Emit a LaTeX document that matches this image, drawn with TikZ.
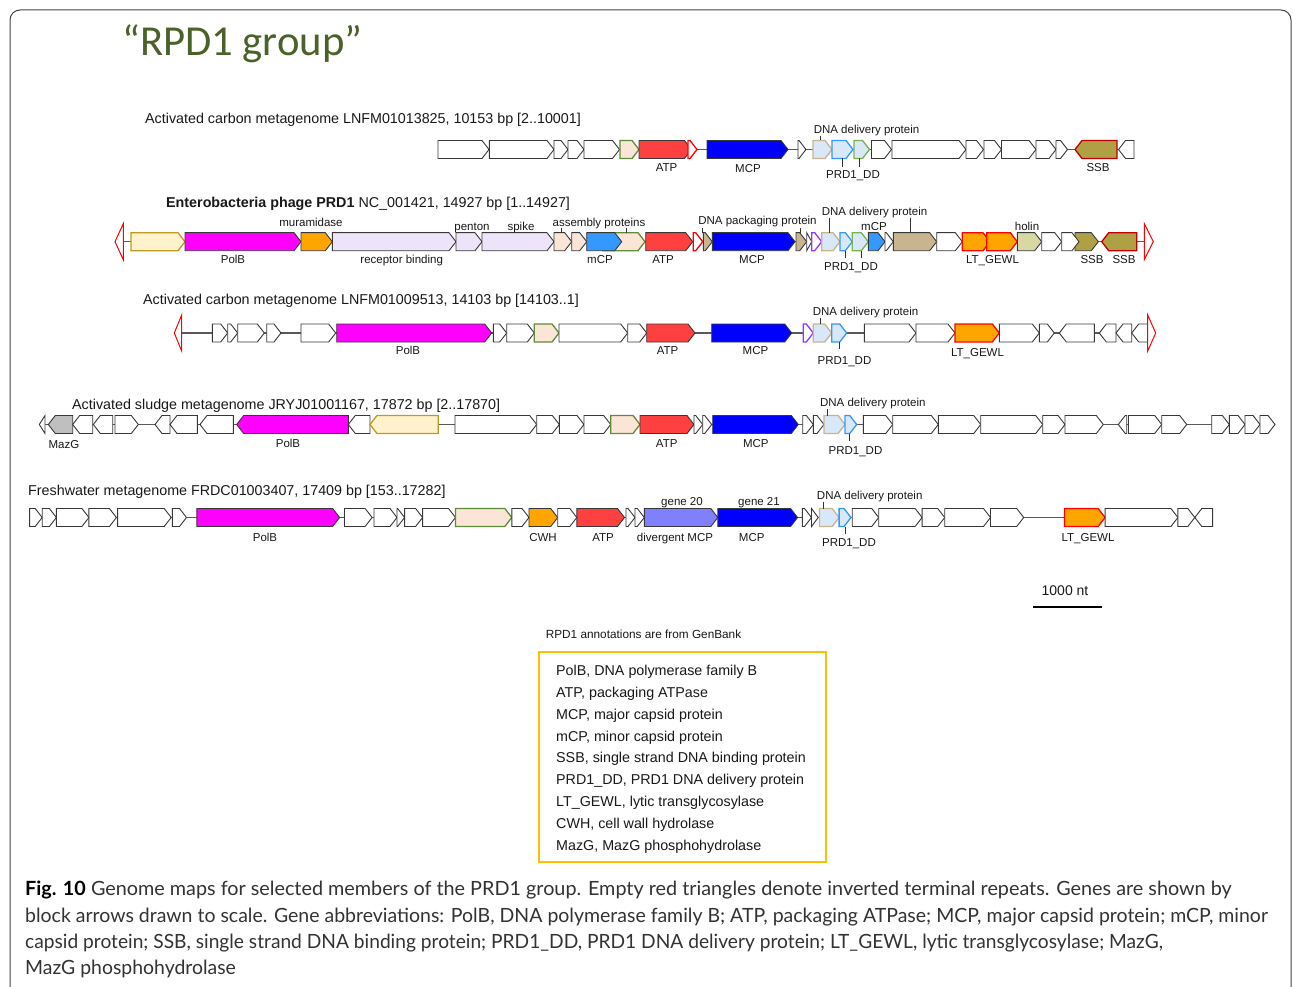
\documentclass[tikz,border=0pt]{standalone}
\usepackage{fontspec}
\setmainfont{Liberation Sans}
\newfontfamily\capfont{Lato}
\newfontfamily\grpfont{Carlito}
\definecolor{cATP}{HTML}{FF4040}
\definecolor{cMCP}{HTML}{0000FF}
\definecolor{cPolB}{HTML}{FF00FF}
\definecolor{cOr}{HTML}{FFA500}
\definecolor{cSSB}{HTML}{B0A045}
\definecolor{cCream}{HTML}{FFF2CC}
\definecolor{cGold}{HTML}{C09A20}
\definecolor{cBeige}{HTML}{FBE5D6}
\definecolor{cGreen}{HTML}{5E8C3A}
\definecolor{cLB}{HTML}{D9E8F8}
\definecolor{cTanB}{HTML}{C8B48E}
\definecolor{cBlueB}{HTML}{3399FF}
\definecolor{cGreenB}{HTML}{77B352}
\definecolor{cmCP}{HTML}{3399FF}
\definecolor{cTan}{HTML}{C8B48E}
\definecolor{cHolin}{HTML}{D8D8A3}
\definecolor{cPurple}{HTML}{9933FF}
\definecolor{cLav}{HTML}{EEE4FA}
\definecolor{cMazG}{HTML}{BFBFBF}
\definecolor{cDiv}{HTML}{8080FF}
\definecolor{cRedB}{HTML}{FF0000}
\definecolor{cDkRed}{HTML}{C00000}
\definecolor{cFrame}{HTML}{444444}
\definecolor{cTitle}{HTML}{4A6128}
\definecolor{cLegend}{HTML}{FFC000}
\definecolor{cCap}{HTML}{333333}
\newcommand\gene[4][]{%
  \pgfmathsetmacro\gL{(#3)-(#2)}%
  \pgfmathsetmacro\gM{(#3)-((\gL>0)*min(7,\gL)+(\gL<0)*max(-7,\gL))}%
  \draw[genebox,#1] (#2,#4-9) -- (\gM,#4-9) -- (#3,#4) -- (\gM,#4+9) -- (#2,#4+9) -- cycle;}
\tikzset{
  genebox/.style={draw=black!78, fill=white, line width=0.9pt, line join=miter},
  gatp/.style={fill=cATP},
  gmcp/.style={fill=cMCP},
  gpolb/.style={fill=cPolB},
  gorng/.style={fill=cOr},
  glt/.style={fill=cOr, draw=cRedB, line width=1.3pt},
  gssbr/.style={fill=cSSB, draw=cDkRed, line width=1.3pt},
  gssbk/.style={fill=cSSB},
  gcream/.style={fill=cCream, draw=cGold, line width=1.3pt},
  gbeige/.style={fill=cBeige, draw=cGreen, line width=1.3pt},
  gbeigek/.style={fill=cBeige},
  gddp/.style={fill=cLB, draw=cTanB, line width=1.3pt},
  gprdd/.style={fill=cLB, draw=cBlueB, line width=1.3pt},
  glbg/.style={fill=cLB, draw=cGreenB, line width=1.3pt},
  gmcpm/.style={fill=cmCP},
  gtanf/.style={fill=cTan},
  gholin/.style={fill=cHolin},
  gpurp/.style={fill=white, draw=cPurple, line width=1.3pt},
  gredh/.style={fill=white, draw=cRedB, line width=1.3pt},
  glav/.style={fill=cLav},
  gmazg/.style={fill=cMazG},
  gdmcp/.style={fill=cDiv},
  itr/.style={draw=cRedB, fill=white, line width=1pt, line join=miter},
  backbone/.style={draw=black!65, line width=1.2pt},
  tickline/.style={draw=black!80, line width=0.8pt},
  lab/.style={font=\fontsize{11.5}{13}\selectfont, text=black!90, inner sep=0, anchor=base},
  ttl/.style={font=\fontsize{14.3}{16}\selectfont, text=black!90, inner sep=0, anchor=base west},
  legtext/.style={font=\fontsize{14.3}{16}\selectfont, text=black!90, inner sep=0, anchor=base west},
  captext/.style={font=\capfont\fontsize{19.6}{23}\selectfont, text=cCap, inner sep=0, anchor=base west}
}
\begin{document}
\begin{tikzpicture}[x=1pt,y=-1pt]
\useasboundingbox (0,0) rectangle (1293,987);
\fill[white] (0,0) rectangle (1293,987);
\draw[cFrame, line width=1pt, rounded corners=10pt] (10,1000) -- (10,10) -- (1291,10) -- (1291,1000);
\node[anchor=base west, inner sep=0, text=cTitle, font=\grpfont\fontsize{42.7}{50}\selectfont] (grp) at (122,56) {“RPD1 group”};

% ---------------- Row 1 ----------------
\def\ry{149.5}
\node[ttl] (t1) at (145,124) {Activated carbon metagenome LNFM01013825, 10153 bp [2..10001]};
\draw[backbone] (438,\ry) -- (1134,\ry);
\gene{438}{489}{\ry}
\gene{489.3}{554}{\ry}
\gene{554}{568}{\ry}
\gene{568}{584}{\ry}
\gene{584}{619.5}{\ry}
\gene[gbeige]{620}{639}{\ry}
\gene[gatp]{639}{691.5}{\ry}
\gene[gredh]{688}{697}{\ry}
\gene[gmcp]{707}{788}{\ry}
\gene{798}{806}{\ry}
\gene[gddp]{813}{832}{\ry}
\gene[gprdd]{832}{853}{\ry}
\gene[glbg]{854}{869.5}{\ry}
\gene{871.5}{891.5}{\ry}
\gene{892}{966}{\ry}
\gene{966}{983.5}{\ry}
\gene{984}{1001.5}{\ry}
\gene{1001.5}{1036}{\ry}
\gene{1036}{1056}{\ry}
\gene{1056}{1067.5}{\ry}
\gene[gssbr]{1117}{1075}{\ry}
\gene{1134}{1118.5}{\ry}
\node[lab] (r1atp) at (666.5,172) {ATP};
\node[lab] (r1mcp) at (748,173) {MCP};
\node[lab] (r1ddp) at (866.5,133.5) {DNA delivery protein};
\node[lab] (r1prd) at (853,178.5) {PRD1\_DD};
\node[lab] (r1ssb) at (1098,172) {SSB};
\draw[tickline] (820.5,136) -- (820.5,140.5);
\draw[tickline] (842.3,158.5) -- (842.3,167);
\draw[tickline] (859,158.5) -- (859,167);

% ---------------- Row 2 ----------------
\def\ry{241.7}
\node[ttl] (t2) at (166,208) {\textbf{Enterobacteria phage PRD1} NC\_001421, 14927 bp [1..14927]};
\draw[backbone] (115,\ry) -- (1153,\ry);
\draw[itr] (115,\ry) -- (123.3,\ry-18) -- (123.3,\ry+18) -- cycle;
\gene[gcream]{131}{185}{\ry}
\gene[gpolb]{185}{301}{\ry}
\gene[gorng]{301}{332.3}{\ry}
\gene[glav]{332.3}{456}{\ry}
\gene[glav]{456}{482}{\ry}
\gene[glav]{482}{554}{\ry}
\gene[gbeigek]{554}{571.7}{\ry}
\gene[gbeigek]{571.7}{586.7}{\ry}
\gene[gbeige]{603}{645}{\ry}
\gene[gmcpm]{586.7}{621.7}{\ry}
\gene[gatp]{645.7}{692.7}{\ry}
\gene[gredh]{693.3}{702.7}{\ry}
\gene[gtanf]{703.3}{712.3}{\ry}
\gene[gmcp]{712.3}{795}{\ry}
\gene[gtanf]{796}{806.7}{\ry}
\gene{806.7}{811.7}{\ry}
\gene[gpurp]{811.7}{821.7}{\ry}
\gene[gddp]{821.7}{840}{\ry}
\gene[gprdd]{840}{852.3}{\ry}
\gene[glbg]{852.3}{868.3}{\ry}
\gene[gmcpm]{868.3}{885}{\ry}
\gene{885}{893.3}{\ry}
\gene[gtanf]{893.3}{936.7}{\ry}
\gene{936.7}{962.3}{\ry}
\gene[glt]{962.3}{990}{\ry}
\gene[glt]{986.7}{1017.3}{\ry}
\gene[gholin]{1017.3}{1041.7}{\ry}
\gene{1041.7}{1061.7}{\ry}
\gene[gssbk]{1075}{1098.3}{\ry}
\gene{1061.7}{1079}{\ry}
\gene[gssbr]{1136.7}{1101.7}{\ry}
\draw[itr] (1153.3,\ry) -- (1144.3,\ry-18) -- (1144.3,\ry+18) -- cycle;
\node[lab] (r2mur) at (311,226) {muramidase};
\node[lab] (r2polb) at (233,263) {PolB};
\node[lab] (r2rec) at (401.7,263) {receptor binding};
\node[lab] (r2pen) at (472,231) {penton};
\node[lab] (r2spk) at (521,231) {spike};
\node[lab] (r2asm) at (599,226) {assembly proteins};
\node[lab] (r2mcpa) at (600,263) {mCP};
\node[lab] (r2atp) at (663,263) {ATP};
\node[lab] (r2mcp) at (752,263) {MCP};
\node[lab] (r2dpk) at (757.5,225) {DNA packaging protein};
\node[lab] (r2ddp) at (874.5,215) {DNA delivery protein};
\node[lab] (r2mcpb) at (874,231) {mCP};
\node[lab] (r2prd) at (851,270) {PRD1\_DD};
\node[lab] (r2lt) at (992.5,263) {LT\_GEWL};
\node[lab] (r2hol) at (1027,231) {holin};
\node[lab] (r2ssa) at (1092,263) {SSB};
\node[lab] (r2ssb) at (1124,263) {SSB};
\draw[tickline] (561.7,228) -- (561.7,232.7);
\draw[tickline] (626.7,228) -- (626.7,232.7);
\draw[tickline] (702.7,228) -- (702.7,232.7);
\draw[tickline] (800,228) -- (800,232.7);
\draw[tickline] (829.3,218) -- (829.3,232.7);
\draw[tickline] (910,218) -- (910,232.7);
\draw[tickline] (845,250.7) -- (845,258);
\draw[tickline] (861.7,250.7) -- (861.7,258);

% ---------------- Row 3 ----------------
\def\ry{333}
\node[ttl] (t3) at (143,304) {Activated carbon metagenome LNFM01009513, 14103 bp [14103..1]};
\draw[backbone] (174,\ry) -- (1156,\ry);
\draw[itr] (174.3,\ry) -- (181.7,\ry-18) -- (181.7,\ry+18) -- cycle;
\gene{212.3}{227.7}{\ry}
\gene{227.7}{237.7}{\ry}
\gene{237.7}{264.3}{\ry}
\gene{266.7}{281}{\ry}
\gene{301}{335.7}{\ry}
\gene[gpolb]{336.7}{491.7}{\ry}
\gene{493.3}{506.7}{\ry}
\gene{506.7}{534.3}{\ry}
\gene[gbeige]{534.3}{559}{\ry}
\gene{559}{627.7}{\ry}
\gene{627.7}{646.7}{\ry}
\gene[gatp]{646.7}{695}{\ry}
\gene[gmcp]{711.7}{791.7}{\ry}
\gene[gpurp]{803.3}{813.3}{\ry}
\gene[gddp]{813.3}{831.7}{\ry}
\gene[gprdd]{831.7}{846.7}{\ry}
\gene{864.3}{916}{\ry}
\gene{916}{955}{\ry}
\gene[glt]{955}{999.3}{\ry}
\gene{999.3}{1039.3}{\ry}
\gene{1039.3}{1054.3}{\ry}
\gene{1094.3}{1059.3}{\ry}
\gene{1116}{1099.3}{\ry}
\gene{1131.7}{1116}{\ry}
\gene{1148.3}{1131.7}{\ry}
\draw[itr] (1155.7,\ry) -- (1147.7,\ry-18) -- (1147.7,\ry+18) -- cycle;
\node[lab] (r3polb) at (408,354) {PolB};
\node[lab] (r3atp) at (667.5,354) {ATP};
\node[lab] (r3mcp) at (755.5,354) {MCP};
\node[lab] (r3ddp) at (865.5,315) {DNA delivery protein};
\node[lab] (r3prd) at (844.5,364) {PRD1\_DD};
\node[lab] (r3lt) at (977.5,356) {LT\_GEWL};
\draw[tickline] (820,317.5) -- (820,324);
\draw[tickline] (839.3,342) -- (839.3,349);

% ---------------- Row 4 ----------------
\def\ry{424.5}
\node[ttl] (t4) at (72,409) {Activated sludge metagenome JRYJ01001167, 17872 bp [2..17870]};
\draw[backbone] (39,\ry) -- (1275,\ry);
\gene{45}{39.3}{\ry}
\gene[gmazg]{72.7}{48.3}{\ry}
\gene{92.7}{72.7}{\ry}
\gene{112.7}{93.3}{\ry}
\gene{115}{138.3}{\ry}
\gene{170}{155}{\ry}
\gene{197.3}{170}{\ry}
\gene{233.3}{200}{\ry}
\gene[gpolb]{348.3}{236.7}{\ry}
\gene{370}{348.3}{\ry}
\gene[gcream]{438.3}{370}{\ry}
\gene{455}{536.7}{\ry}
\gene{536.7}{559.3}{\ry}
\gene{559.3}{584}{\ry}
\gene{584}{610.7}{\ry}
\gene[gbeige]{610.7}{640}{\ry}
\gene[gatp]{640}{694}{\ry}
\gene{694}{702.7}{\ry}
\gene{702.7}{711.7}{\ry}
\gene[gmcp]{712.7}{798.3}{\ry}
\gene{802.7}{813.3}{\ry}
\gene{813.3}{824}{\ry}
\gene[gddp]{824}{845}{\ry}
\gene[gprdd]{845}{856.7}{\ry}
\gene{863.3}{892.7}{\ry}
\gene{892.7}{938.3}{\ry}
\gene{938.3}{980.7}{\ry}
\gene{980.7}{1042.7}{\ry}
\gene{1042.7}{1065}{\ry}
\gene{1065}{1103.3}{\ry}
\gene{1126.7}{1118.3}{\ry}
\gene{1128.5}{1161.7}{\ry}
\gene{1161.7}{1186.7}{\ry}
\gene{1211.7}{1229.3}{\ry}
\gene{1229.3}{1245}{\ry}
\gene{1245}{1260}{\ry}
\gene{1260}{1275}{\ry}
\node[lab] (r4maz) at (64,448) {MazG};
\node[lab] (r4polb) at (288,447) {PolB};
\node[lab] (r4atp) at (666.7,447) {ATP};
\node[lab] (r4mcp) at (755.8,447) {MCP};
\node[lab] (r4ddp) at (872.8,406) {DNA delivery protein};
\node[lab] (r4prd) at (855.5,454) {PRD1\_DD};
\draw[tickline] (827.7,409) -- (827.7,415.5);
\draw[tickline] (849,433.5) -- (849,441);

% ---------------- Row 5 ----------------
\def\ry{517.5}
\node[ttl] (t5) at (28,495) {Freshwater metagenome FRDC01003407, 17409 bp [153..17282]};
\draw[backbone] (29,\ry) -- (1213,\ry);
\gene{29.6}{42.2}{\ry}
\gene{42.2}{56.4}{\ry}
\gene{56.4}{88.9}{\ry}
\gene{88.9}{116.4}{\ry}
\gene{117.6}{171.2}{\ry}
\gene{172.3}{186.5}{\ry}
\gene[gpolb]{196.8}{339.6}{\ry}
\gene{344.5}{372.1}{\ry}
\gene{374}{397}{\ry}
\gene{397}{404.6}{\ry}
\gene{404.6}{422.6}{\ry}
\gene{422.6}{455.5}{\ry}
\gene[gbeige]{455.5}{511.8}{\ry}
\gene{511.8}{529}{\ry}
\gene[gorng]{529}{557.7}{\ry}
\gene{557.7}{576.8}{\ry}
\gene[gatp]{576.8}{624.5}{\ry}
\gene{626}{635}{\ry}
\gene{635}{644.3}{\ry}
\gene[gdmcp]{644.3}{717.8}{\ry}
\gene[gmcp]{717.8}{797.6}{\ry}
\gene{802.4}{811.5}{\ry}
\gene{811.5}{818.2}{\ry}
\gene[gddp]{819.4}{839.1}{\ry}
\gene[gprdd]{839.1}{851}{\ry}
\gene{852.2}{878.7}{\ry}
\gene{878.7}{922.1}{\ry}
\gene{922.1}{944.7}{\ry}
\gene{944.7}{990.5}{\ry}
\gene{990.5}{1023.7}{\ry}
\gene[glt]{1064.4}{1105.1}{\ry}
\gene{1105.1}{1177.9}{\ry}
\gene{1177.9}{1194.8}{\ry}
\gene{1212.6}{1194.8}{\ry}
\node[lab] (r5polb) at (265,541) {PolB};
\node[lab] (r5cwh) at (543,541) {CWH};
\node[lab] (r5atp) at (603,541) {ATP};
\node[lab] (r5g20) at (682,505) {gene 20};
\node[lab] (r5g21) at (759,505) {gene 21};
\node[lab] (r5dmcp) at (675,541) {divergent MCP};
\node[lab] (r5mcp) at (751.7,541) {MCP};
\node[lab] (r5ddp) at (869.7,499) {DNA delivery protein};
\node[lab] (r5prd) at (849,546) {PRD1\_DD};
\node[lab] (r5lt) at (1088,541) {LT\_GEWL};
\draw[tickline] (823.3,501.5) -- (823.3,508.5);
\draw[tickline] (845,526.5) -- (845,533.5);

% ---------------- scale bar ----------------
\node[lab, font=\fontsize{14}{16}\selectfont] (sc) at (1065,595) {1000 nt};
\draw[black, line width=2pt] (1033,607) -- (1102,607);

% ---------------- legend ----------------
\node[lab, font=\fontsize{11.8}{13}\selectfont] (src) at (643.5,638) {RPD1 annotations are from GenBank};
\draw[cLegend, line width=2pt] (539,652) rectangle (826,862);
\node[legtext] (lg1) at (556,675) {PolB, DNA polymerase family B};
\node[legtext] (lg2) at (556,697) {ATP, packaging ATPase};
\node[legtext] (lg3) at (556,719) {MCP, major capsid protein};
\node[legtext] (lg4) at (556,741) {mCP, minor capsid protein};
\node[legtext] (lg5) at (556,762) {SSB, single strand DNA binding protein};
\node[legtext] (lg6) at (556,784) {PRD1\_DD, PRD1 DNA delivery protein};
\node[legtext] (lg7) at (556,806) {LT\_GEWL, lytic transglycosylase};
\node[legtext] (lg8) at (556,828) {CWH, cell wall hydrolase};
\node[legtext] (lg9) at (556,850) {MazG, MazG phosphohydrolase};

% ---------------- caption ----------------
\node[captext] (c1) at (25,895.5) {\scalebox{1.010}[1]{{\bfseries\color{black}Fig. 10} Genome maps for selected members of the PRD1 group. Empty red triangles denote inverted terminal repeats. Genes are shown by}};
\node[captext] (c2) at (25,922) {\scalebox{0.9936}[1]{block arrows drawn to scale. Gene abbreviations: PolB, DNA polymerase family B; ATP, packaging ATPase; MCP, major capsid protein; mCP, minor}};
\node[captext] (c3) at (25,948) {\scalebox{0.978}[1]{capsid protein; SSB, single strand DNA binding protein; PRD1\_DD, PRD1 DNA delivery protein; LT\_GEWL, lytic transglycosylase; MazG,}};
\node[captext] (c4) at (25,974.5) {\scalebox{0.99}[1]{MazG phosphohydrolase}};
\end{tikzpicture}
\end{document}
